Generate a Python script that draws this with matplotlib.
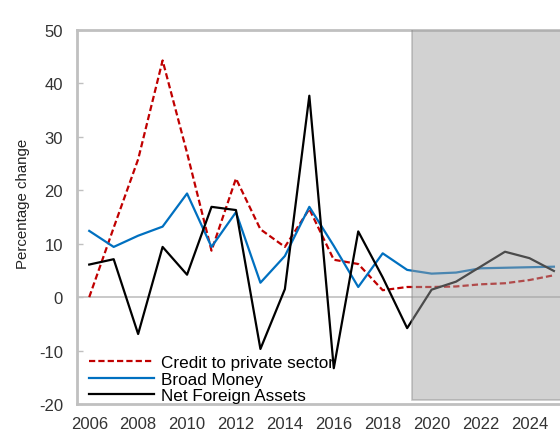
import numpy as np
import matplotlib
matplotlib.use("Agg")
from matplotlib import pyplot as plt
from matplotlib.patches import Rectangle

plt.rcParams['font.family'] = ['Liberation Sans', 'DejaVu Sans']
plt.rcParams['axes.unicode_minus'] = False

years = np.arange(2006, 2026)
# projections start after 2019
proj_start = 2019.2

credit = [0.0, 13.0, 25.8, 44.3, 27.0, 8.7, 22.2, 12.7, 9.4, 16.5,
          7.0, 6.2, 1.3, 1.9, 1.9, 2.0, 2.4, 2.6, 3.2, 4.1]
broad_money = [12.4, 9.4, 11.5, 13.2, 19.4, 9.4, 15.9, 2.7, 7.7, 16.9,
               9.6, 1.9, 8.2, 5.1, 4.4, 4.6, 5.4, 5.5, 5.6, 5.7]
nfa = [6.1, 7.1, -6.9, 9.4, 4.2, 16.9, 16.3, -9.7, 1.5, 37.7,
       -13.3, 12.3, 3.7, -5.8, 1.4, 2.9, 5.7, 8.5, 7.3, 4.9]

labels = ["Credit to private sector", "Broad Money", "Net Foreign Assets"]

fig = plt.figure(figsize=(5.6, 4.35), dpi=100)
ax = fig.add_axes([77/560, 1-405/435, 1-77/560, (405-31)/435])

ax.axhline(0, color="#c0c0c0", lw=1.2, zorder=1)
ax.plot(years, credit, color="#c00000", lw=1.6, ls=(0, (2.8, 1.4)), label=labels[0], zorder=3)
ax.plot(years, broad_money, color="#0070c0", lw=1.6, label=labels[1], zorder=3)
ax.plot(years, nfa, color="black", lw=1.6, label=labels[2], zorder=3)

# shaded projection area, drawn over the lines
ax.add_patch(Rectangle((proj_start, -19.3), 10, 80, facecolor="#a0a0a0", alpha=0.47,
                       edgecolor="#888888", lw=1.2, zorder=4))

ax.set_xlim(2005.5, 2025.25)
ax.set_ylim(-20, 50)
ax.set_xticks(np.arange(2006, 2025, 2))
ax.set_yticks(np.arange(-20, 51, 10))
ax.tick_params(axis="x", length=0, labelsize=12, pad=8.5, colors="#333333")
ax.tick_params(axis="y", direction="in", length=4, width=1, color="#c0c0c0",
               labelsize=12, pad=10, labelcolor="#333333")
for s in ["left", "top", "bottom"]:
    ax.spines[s].set_color("#c0c0c0")
    ax.spines[s].set_linewidth(2)
ax.spines["right"].set_visible(False)
ax.set_ylabel("Percentage change", fontsize=10.8, color="#222222")
ax.yaxis.set_label_coords(-0.097, 0.537)

leg = ax.legend(loc="lower left", bbox_to_anchor=(0.0, -0.03), frameon=False, fontsize=12.3,
                handlelength=3.8, handletextpad=0.4, labelspacing=0.1, borderaxespad=0.3)

fig.savefig("out.png", dpi=100)
